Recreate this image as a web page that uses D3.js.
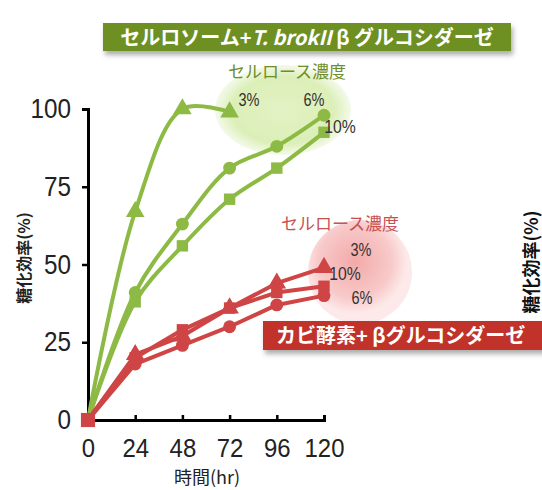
<!DOCTYPE html>
<html>
<head>
<meta charset="utf-8">
<script src="https://cdn.jsdelivr.net/npm/d3@7"></script>
<style>
  body { margin: 0; background: #fff; }
  svg { display: block; }
</style>
</head>
<body>
<div id="chart"></div>
<script>
// Time points (hr)
const hours = [0, 24, 48, 72, 96, 120];
const xTicks = [0, 24, 48, 72, 96, 120];
const yTicks = [0, 25, 50, 75, 100];

// Cellulosome + T. brockii beta-glucosidase (green)
const green3 = [0, 67, 100, 99];          // triangles, only up to 72 hr
const green6 = [0, 41, 63, 81, 88, 98];   // circles
const green10 = [0, 38, 56, 71, 81, 92.5]; // squares

// Fungal enzyme + beta-glucosidase (red)
const red3 = [0, 21, 27, 36, 44, 49];   // triangles
const red10 = [0, 20, 29, 36, 41, 43];  // squares
const red6 = [0, 18, 24, 30, 37, 40];   // circles

const width = 542, height = 490;
const jp = '"Noto Sans CJK JP", sans-serif';
const narrow = '"Liberation Sans", Arial, sans-serif';
const greenCol = '#8dba45', redCol = '#cf4444';

let svg = d3.select('#chart').append('svg')
    .attr('width', width)
    .attr('height', height);

let defs = svg.append('defs');

let gGrad = defs.append('radialGradient').attr('id', 'gBlob');
gGrad.append('stop').attr('offset', '0%').attr('stop-color', '#e3f2c4');
gGrad.append('stop').attr('offset', '75%').attr('stop-color', '#dcefb8');
gGrad.append('stop').attr('offset', '100%').attr('stop-color', '#f4faea');

let rGrad = defs.append('radialGradient').attr('id', 'rBlob')
    .attr('cx', '45%').attr('cy', '40%');
rGrad.append('stop').attr('offset', '0%').attr('stop-color', '#f3a9a9');
rGrad.append('stop').attr('offset', '70%').attr('stop-color', '#f8c9c9');
rGrad.append('stop').attr('offset', '100%').attr('stop-color', '#fde9e9');

let shadow = defs.append('filter').attr('id', 'shadow')
    .attr('x', '-5%').attr('y', '-20%').attr('width', '110%').attr('height', '160%');
shadow.append('feDropShadow')
    .attr('dx', 2).attr('dy', 4).attr('stdDeviation', 2.5)
    .attr('flood-color', '#777').attr('flood-opacity', 0.6);

let x = d3.scaleLinear().domain([0, 120]).range([88, 324]);
let y = d3.scaleLinear().domain([0, 100]).range([420, 109]);

// squeeze text horizontally to mimic a narrow font
function squeeze(sel, perChar) {
    sel.each(function () {
        let t = d3.select(this);
        t.attr('textLength', t.text().length * perChar)
         .attr('lengthAdjust', 'spacingAndGlyphs');
    });
}

// background blobs
svg.append('ellipse')
    .attr('cx', 283).attr('cy', 110).attr('rx', 68).attr('ry', 45)
    .attr('fill', 'url(#gBlob)');
svg.append('circle')
    .attr('cx', 360).attr('cy', 272).attr('r', 52)
    .attr('fill', 'url(#rBlob)');

// axes
let yAxis = svg.append('g')
    .attr('transform', `translate(${x(0)},0)`)
    .call(d3.axisLeft(y).tickValues(yTicks).tickSize(6).tickPadding(11));
yAxis.select('.domain').attr('stroke-width', 3);
yAxis.selectAll('.tick line').attr('stroke-width', 2.5);
yAxis.selectAll('.tick text')
    .attr('font-family', narrow).attr('font-size', 27).attr('fill', '#222');
squeeze(yAxis.selectAll('.tick text'), 13.5);

let xAxis = svg.append('g')
    .attr('transform', `translate(0,${y(0)})`)
    .call(d3.axisBottom(x).tickValues(xTicks).tickSize(-5).tickSizeOuter(-5).tickPadding(19));
xAxis.select('.domain').attr('stroke-width', 3);
xAxis.selectAll('.tick line').attr('stroke-width', 2.5);
xAxis.selectAll('.tick text')
    .attr('font-family', narrow).attr('font-size', 26).attr('fill', '#222');
squeeze(xAxis.selectAll('.tick text'), 13.3);

// axis titles
svg.append('text')
    .attr('transform', 'translate(30,258) rotate(-90)')
    .attr('text-anchor', 'middle')
    .attr('font-family', jp).attr('font-size', 16).attr('font-weight', 'bold')
    .attr('fill', '#222')
    .text('糖化効率(%)');

svg.append('text')
    .attr('x', 207).attr('y', 484)
    .attr('text-anchor', 'middle')
    .attr('font-family', jp).attr('font-size', 18)
    .attr('fill', '#222')
    .text('時間(hr)');

// clipped second axis title at right edge
svg.append('text')
    .attr('transform', 'translate(538,262) rotate(-90)')
    .attr('text-anchor', 'middle')
    .attr('font-family', jp).attr('font-size', 18).attr('font-weight', 'bold')
    .attr('fill', '#111')
    .text('糖化効率(%)');

// series
let series = [
    { vals: green3, color: greenCol, shape: d3.symbolTriangle, curve: d3.curveCatmullRom.alpha(0.5) },
    { vals: green6, color: greenCol, shape: d3.symbolCircle, curve: d3.curveCatmullRom.alpha(0.5) },
    { vals: green10, color: greenCol, shape: d3.symbolSquare, curve: d3.curveCatmullRom.alpha(0.5) },
    { vals: red6, color: redCol, shape: d3.symbolCircle, curve: d3.curveLinear },
    { vals: red10, color: redCol, shape: d3.symbolSquare, curve: d3.curveLinear },
    { vals: red3, color: redCol, shape: d3.symbolTriangle, curve: d3.curveLinear }
];

series.forEach(s => {
    let pts = s.vals.map((v, i) => [hours[i], v]);
    let line = d3.line()
        .x(d => x(d[0]))
        .y(d => y(d[1]))
        .curve(s.curve);

    svg.append('path')
        .datum(pts)
        .attr('d', line)
        .attr('fill', 'none')
        .attr('stroke', s.color)
        .attr('stroke-width', 4)
        .attr('stroke-linejoin', 'round');

    svg.append('g')
        .selectAll('path')
        .data(pts.slice(1))
        .enter()
        .append('path')
        .attr('transform', d => `translate(${x(d[0])},${y(d[1])})`)
        .attr('d', d3.symbol().type(s.shape).size(s.shape === d3.symbolTriangle ? 150 : 130))
        .attr('fill', s.color);
});

// origin marker
svg.append('path')
    .attr('transform', `translate(${x(0)},${y(0)})`)
    .attr('d', d3.symbol().type(d3.symbolSquare).size(200))
    .attr('fill', redCol);

// green legend texts
svg.append('text')
    .attr('x', 287).attr('y', 78)
    .attr('text-anchor', 'middle')
    .attr('font-family', jp).attr('font-size', 17)
    .attr('fill', '#6e8e2a')
    .text('セルロース濃度');

let pctTexts = svg.append('g');
[['3%', 249, 106], ['6%', 314, 106], ['10%', 340, 133]].forEach(t => {
    pctTexts.append('text')
        .attr('x', t[1]).attr('y', t[2])
        .attr('text-anchor', 'middle')
        .attr('font-family', narrow).attr('font-size', 18)
        .attr('fill', '#333')
        .text(t[0]);
});

// red legend texts
svg.append('text')
    .attr('x', 340).attr('y', 230)
    .attr('text-anchor', 'middle')
    .attr('font-family', jp).attr('font-size', 17)
    .attr('fill', '#c95050')
    .text('セルロース濃度');

[['3%', 361, 256], ['10%', 345, 280], ['6%', 362, 304]].forEach(t => {
    pctTexts.append('text')
        .attr('x', t[1]).attr('y', t[2])
        .attr('text-anchor', 'middle')
        .attr('font-family', narrow).attr('font-size', 18)
        .attr('fill', '#333')
        .text(t[0]);
});
squeeze(pctTexts.selectAll('text'), 10.5);

// green banner
svg.append('rect')
    .attr('x', 103).attr('y', 23).attr('width', 408).attr('height', 28)
    .attr('fill', '#6e9024')
    .attr('filter', 'url(#shadow)');

let gTitle = svg.append('text')
    .attr('x', 307).attr('y', 45)
    .attr('text-anchor', 'middle')
    .attr('font-family', jp).attr('font-size', 20).attr('font-weight', 'bold')
    .attr('fill', '#fff');
gTitle.append('tspan').text('セルロソーム+');
gTitle.append('tspan').attr('font-style', 'italic').text('T. brokII');
gTitle.append('tspan').text(' β グルコシダーゼ');

// red banner
svg.append('rect')
    .attr('x', 263).attr('y', 321).attr('width', 282).attr('height', 29)
    .attr('fill', '#c0302c')
    .attr('filter', 'url(#shadow)');

svg.append('text')
    .attr('x', 276).attr('y', 343)
    .attr('font-family', jp).attr('font-size', 20).attr('font-weight', 'bold')
    .attr('fill', '#fff')
    .text('カビ酵素+ βグルコシダーゼ');
</script>
</body>
</html>
